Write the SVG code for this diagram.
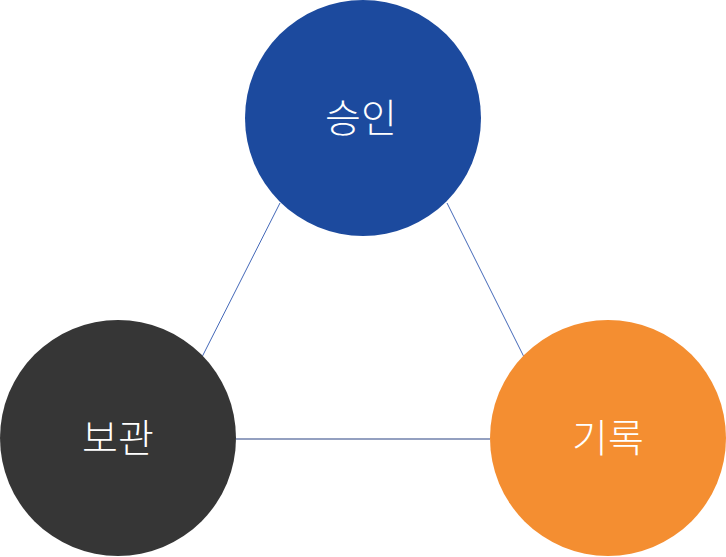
<svg xmlns="http://www.w3.org/2000/svg" width="726" height="557" viewBox="0 0 726 557">
<style>
.lbl{font-family:"Noto Sans CJK KR","Noto Sans",sans-serif;font-size:39px;font-weight:300;fill:#fff;text-anchor:middle;dominant-baseline:central}
</style>
<rect width="726" height="557" fill="#fff"/>
<g id="connectors" fill="none">
<line x1="280" y1="203" x2="202" y2="357" stroke="#4468b8" stroke-width="1"/>
<line x1="447" y1="203" x2="524" y2="357" stroke="#4468b8" stroke-width="1"/>
<line x1="236" y1="439" x2="490" y2="439" stroke="#2a4282" stroke-width="1.2"/>
</g>
<g id="approve">
<circle cx="363" cy="118" r="118" fill="#1c4a9e"/>
<text class="lbl" x="361" y="115">승인</text>
</g>
<g id="store">
<circle cx="118" cy="438" r="118" fill="#363636"/>
<text class="lbl" x="118" y="435">보관</text>
</g>
<g id="record">
<circle cx="608" cy="438" r="118" fill="#f48e31"/>
<text class="lbl" x="608" y="435">기록</text>
</g>
</svg>
